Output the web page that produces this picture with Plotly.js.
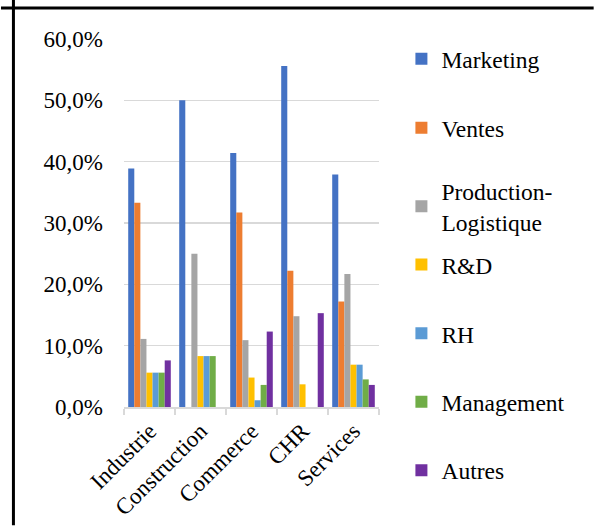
<!DOCTYPE html>
<html>
<head>
<meta charset="utf-8">
<script src="https://cdn.plot.ly/plotly-3.0.1.min.js"></script>
<style>
html,body{margin:0;padding:0;background:#fff;}
#chart text{font-family:"Liberation Serif" !important;}
#warm{position:absolute;left:580px;top:510px;font-family:"Liberation Serif";font-size:2px;color:#fff;line-height:2px;}
</style>
</head>
<body>
<div id="warm">a</div>
<div id="chart"></div>
<script>
var categories = ["Industrie", "Construction", "Commerce", "CHR", "Services"];
var seriesNames = ["Marketing", "Ventes", "Production-<br>Logistique", "R&D", "RH", "Management", "Autres"];
var marketing  = [0.389, 0.500, 0.414, 0.556, 0.379];
var ventes     = [0.333, 0.000, 0.317, 0.222, 0.172];
var production = [0.111, 0.250, 0.109, 0.148, 0.217];
var rd         = [0.056, 0.083, 0.048, 0.037, 0.069];
var rh         = [0.056, 0.083, 0.011, 0.000, 0.069];
var management = [0.056, 0.083, 0.036, 0.000, 0.045];
var autres     = [0.076, 0.000, 0.123, 0.153, 0.036];
var colors = ["#4472C4", "#ED7D31", "#A5A5A5", "#FFC000", "#5B9BD5", "#70AD47", "#7030A0"];
var yTicks = [0, 0.1, 0.2, 0.3, 0.4, 0.5, 0.6];

var values = [marketing, ventes, production, rd, rh, management, autres];

// plot area in pixels
var chartW = 595, chartH = 526;
var plotL = 123.5, plotR = 379.5, plotT = 39, plotB = 407.5;
var plotW = plotR - plotL, plotH = plotB - plotT;
function px2x(x){ return (x - plotL) / plotW; }
function px2y(y){ return (plotB - y) / plotH; }

var legendNames = ["legend", "legend2", "legend3", "legend4", "legend5", "legend6", "legend7"];
var legendCentersPx = [59, 128, 207, 265, 334, 402.5, 471];

var serifFont = "Liberation Serif";

function buildTraces(){
  return values.map(function(v, i){
    return {
      type: "bar",
      name: seriesNames[i],
      x: categories,
      y: v,
      marker: {color: colors[i], line: {width: 0}},
      legend: legendNames[i],
      showlegend: true,
      hoverinfo: "skip"
    };
  });
}

function buildLayout(){
  var layout = {
    width: chartW, height: chartH,
    margin: {l: plotL, r: chartW - plotR, t: plotT, b: chartH - plotB, pad: 0},
    paper_bgcolor: "#fff",
    plot_bgcolor: "#fff",
    separators: ", ",
    showlegend: true,
    barmode: "group",
    bargap: 0.165,
    bargroupgap: 0,
    font: {family: serifFont, size: 23, color: "#000000"},
    xaxis: {
      type: "category",
      showline: true, linecolor: "#d9d9d9", linewidth: 1.5,
      ticks: "outside", tickson: "boundaries", ticklen: 6, tickcolor: "#d9d9d9", tickwidth: 1.5,
      tickangle: -45,
      tickfont: {family: serifFont, size: 23, color: "#000000"},
      showgrid: false, zeroline: false,
      fixedrange: true
    },
    yaxis: {
      range: [0, 0.6],
      tickvals: yTicks,
      tickformat: ".1%",
      showgrid: true, gridcolor: "#d9d9d9", gridwidth: 1.5,
      zeroline: false, showline: false, ticks: "",
      ticklabelstandoff: 20,
      tickfont: {family: serifFont, size: 23, color: "#000000"},
      fixedrange: true
    },
    shapes: [
      {type: "line", xref: "paper", yref: "paper",
       x0: px2x(0), x1: px2x(chartW), y0: px2y(8), y1: px2y(8),
       line: {color: "#000", width: 3}},
      {type: "line", xref: "paper", yref: "paper",
       x0: px2x(12.5), x1: px2x(12.5), y0: px2y(0), y1: px2y(chartH),
       line: {color: "#000", width: 3}}
    ]
  };
  legendNames.forEach(function(name, i){
    layout[name] = {
      visible: true,
      x: px2x(402), xanchor: "left",
      y: px2y(legendCentersPx[i]), yanchor: "middle",
      bgcolor: "rgba(0,0,0,0)",
      borderwidth: 0,
      font: {family: serifFont, size: 23.5, color: "#000000"},
      itemclick: false, itemdoubleclick: false
    };
  });
  return layout;
}

var config = {displayModeBar: false, staticPlot: true};
Plotly.newPlot("chart", buildTraces(), buildLayout(), config);

if (document.fonts && document.fonts.load) {
  document.fonts.load('23px "Liberation Serif"', "Marketing 60,0%").then(function(){
    Plotly.react("chart", buildTraces(), buildLayout(), config);
  }).catch(function(){});
}
</script>
</body>
</html>
